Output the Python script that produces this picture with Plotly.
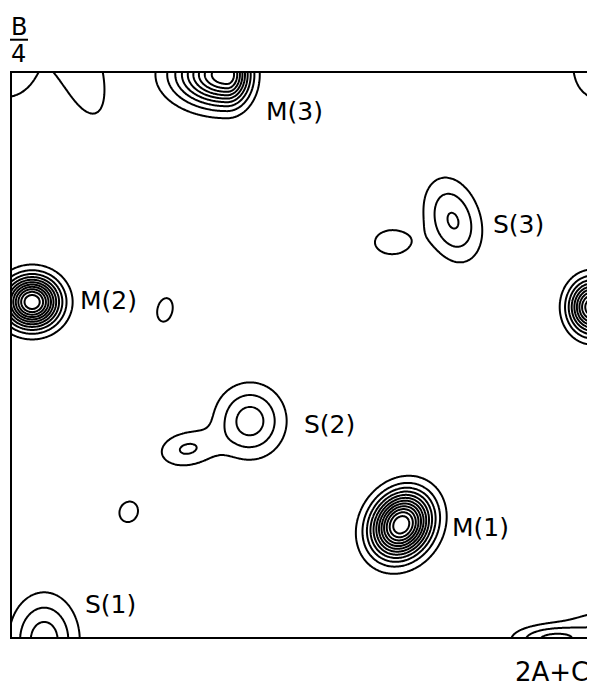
import numpy as np
import plotly.graph_objects as go

# Peak model (fractional cell coordinates)
# s1p / s1n: spread along the major axis on its positive / negative side; s2: across it
peak_names = ["M3", "M2", "M2r", "M1", "S3", "blobS3", "S2", "S2lobe", "S1",
              "BR", "BRx", "TL", "Ttop", "TR", "blob0", "blobL"]
peak_x     = [0.374, 0.035, 1.009, 0.677, 0.767, 0.661, 0.414, 0.304, 0.056,
              0.941, 1.040, -0.012, 0.112, 1.017, 0.266, 0.203]
peak_y     = [0.997, 0.594, 0.585, 0.199, 0.738, 0.700, 0.383, 0.333, -0.005,
              -0.005, 0.021, 1.009, 1.030, 1.012, 0.580, 0.222]
peak_amp   = [10.0, 12.0, 10.0, 13.0, 3.12, 1.6, 3.55, 2.1, 3.6,
              3.3, 1.8, 2.0, 1.9, 1.6, 1.6, 1.6]
peak_s1p   = [0.0265, 0.0316, 0.0263, 0.040, 0.050, 0.0307, 0.040, 0.036, 0.0386,
              0.047, 0.0526, 0.0439, 0.094, 0.042, 0.0218, 0.019]
peak_s1n   = [0.058, 0.0316, 0.0263, 0.040, 0.052, 0.0307, 0.040, 0.036, 0.0386,
              0.047, 0.0526, 0.0439, 0.094, 0.042, 0.0218, 0.019]
peak_s2    = [0.036, 0.0298, 0.031, 0.033, 0.032, 0.0218, 0.043, 0.0228, 0.0526,
              0.0175, 0.021, 0.0439, 0.033, 0.058, 0.0135, 0.0163]
peak_angle = [0, 0, 0, 60, -74, 0, 0, 10, 0,
              0, 0, 0, -72, 0, 78, 70]

label_text = ["M(3)", "S(3)", "M(2)", "S(2)", "M(1)", "S(1)"]
label_x    = [0.492, 0.880, 0.167, 0.553, 0.814, 0.172]
label_y    = [0.931, 0.732, 0.596, 0.376, 0.195, 0.0585]

contour_start, contour_end, contour_step = 1, 12, 1

gx = np.linspace(-0.02, 1.02, 521)
gy = np.linspace(-0.02, 1.02, 521)
X, Y = np.meshgrid(gx, gy)
Z = np.zeros_like(X)
for px, py, a, sp, sn, s2, ang in zip(peak_x, peak_y, peak_amp, peak_s1p, peak_s1n,
                                      peak_s2, peak_angle):
    t = np.deg2rad(ang)
    dx, dy = X - px, Y - py
    u = dx * np.cos(t) + dy * np.sin(t)
    v = -dx * np.sin(t) + dy * np.cos(t)
    s1 = np.where(u >= 0, sp, sn)
    Z += a * np.exp(-(u**2 / (2 * s1**2) + v**2 / (2 * s2**2)))

fig = go.Figure(go.Contour(
    x=gx, y=gy, z=Z,
    contours=dict(start=contour_start, end=contour_end, size=contour_step, coloring="lines"),
    colorscale=[[0, "black"], [1, "black"]],
    showscale=False,
    line=dict(width=2, smoothing=1.0),
    hoverinfo="skip",
))

font = dict(family="DejaVu Sans", size=25, color="black")
ann = []
for t, x, y in zip(label_text, label_x, label_y):
    ann.append(dict(text=t, x=x, y=y, xref="paper", yref="paper", showarrow=False,
                    xanchor="center", yanchor="middle", font=font))
ann.append(dict(text="2A+C", x=0.939, y=-0.062, xref="paper", yref="paper", showarrow=False,
                xanchor="center", yanchor="middle", font=dict(family="DejaVu Sans", size=26, color="black")))
ann.append(dict(text="B", x=0.012, y=1.082, xref="paper", yref="paper", showarrow=False,
                xanchor="center", yanchor="middle", font=dict(family="DejaVu Sans", size=24, color="black")))
ann.append(dict(text="4", x=0.012, y=1.034, xref="paper", yref="paper", showarrow=False,
                xanchor="center", yanchor="middle", font=dict(family="DejaVu Sans", size=24, color="black")))

fig.update_layout(
    width=587, height=678,
    margin=dict(l=4, r=8, t=65, b=49),
    paper_bgcolor="white", plot_bgcolor="white",
    annotations=ann,
    shapes=[dict(type="line", xref="paper", yref="paper", x0=-0.0035, x1=0.0278,
                 y0=1.059, y1=1.059, line=dict(color="black", width=2))],
    xaxis=dict(range=[0, 1], showline=True, mirror=True, linecolor="black", linewidth=1.5,
               showticklabels=False, ticks="", showgrid=False, zeroline=False),
    yaxis=dict(range=[0, 1], showline=True, mirror=True, linecolor="black", linewidth=1.5,
               showticklabels=False, ticks="", showgrid=False, zeroline=False),
)
fig.write_html("out.html")
